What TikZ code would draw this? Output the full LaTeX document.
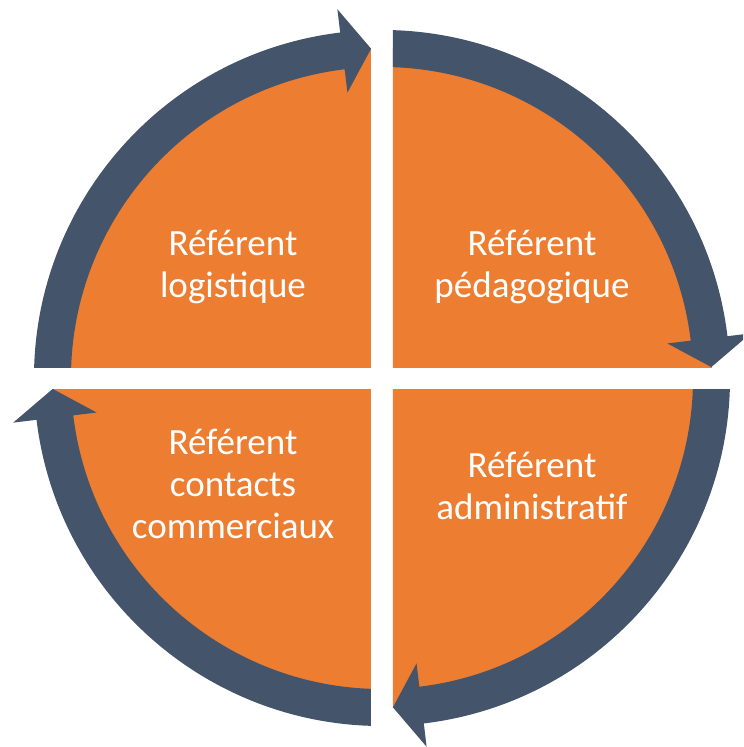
\documentclass[tikz,border=0pt]{standalone}
\usepackage{fontspec}
\setmainfont{Carlito}
\usetikzlibrary{positioning}
\definecolor{quadorange}{HTML}{ED7D31}
\definecolor{ringslate}{HTML}{44546A}

\begin{document}
\begin{tikzpicture}[x=0.03cm, y=0.03cm,
        quad/.style={fill=quadorange},
        ring/.style={fill=ringslate},
        quadtext/.style={text=white, align=center, font=\fontsize{31.6}{36}\selectfont}]
      \useasboundingbox (-382,-369) rectangle (361,378);
      \clip (-382,-369) rectangle (361,378);
      % Quadrants and cycle arrows
      \foreach \k in {0,1,2,3} {
        \begin{scope}[rotate=-90*\k]
          \clip (-400,11) rectangle (-11,400);
          \fill[quad] (0,0) -- (185:330) arc[start angle=185, end angle=85, radius=330] -- cycle;
          \fill[ring] (185:311) arc[start angle=185, end angle=96.9, radius=311]
            -- (96.9:287.5) -- (91.9:329.5) -- (96.9:371.5) -- (96.9:348)
            arc[start angle=96.9, end angle=185, radius=348] -- cycle;
        \end{scope}
      }

      % Labels
      \node[quadtext] (logistique) at (-149,111) {Référent\\logistique};
      \node[quadtext] (pedagogique) at (150,111) {Référent\\pédagogique};
      \node[quadtext] (administratif) at (150,-108) {Référent\\administratif};
      \node[quadtext] (commerciaux) at (-149,-106) {Référent\\contacts\\commerciaux};
    \end{tikzpicture}
\end{document}
